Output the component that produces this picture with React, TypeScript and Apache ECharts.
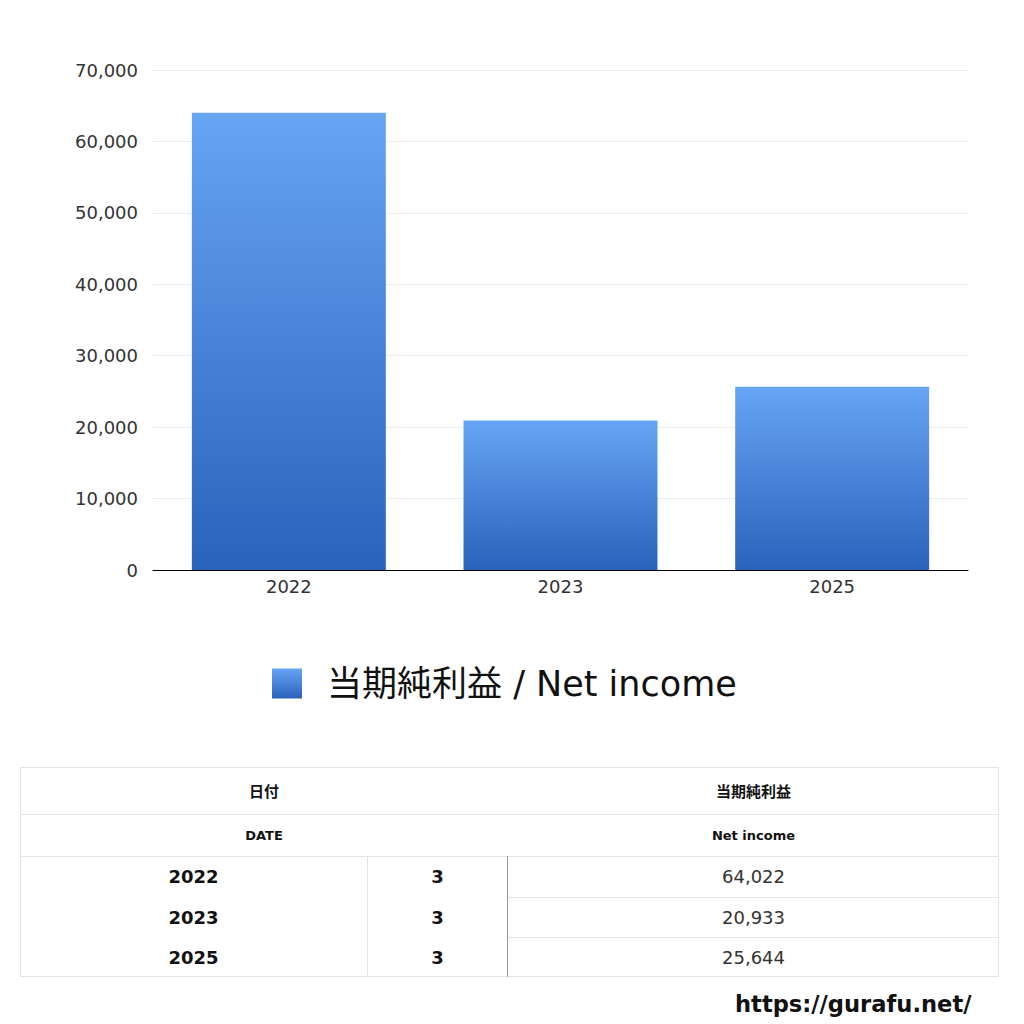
import React, { useEffect, useRef } from 'react'
import * as echarts from 'echarts'

const years = ['2022', '2023', '2025']
const months = ['3', '3', '3']
const netIncome = [64022, 20933, 25644]
const seriesName = '当期純利益 / Net income'

const FONT = '"DejaVu Sans", "Noto Sans CJK JP", sans-serif'

function Chart() {
  const chartRef = useRef<HTMLDivElement>(null)

  useEffect(() => {
    if (!chartRef.current) return
    const chart = echarts.init(chartRef.current, null, { renderer: 'svg' })

    chart.setOption({
      animation: false,
      textStyle: { fontFamily: FONT },
      grid: { left: 153, right: 56, top: 70, bottom: 454, containLabel: false },
      legend: {
        show: true,
        left: 272,
        top: 666,
        padding: 0,
        itemWidth: 30,
        itemHeight: 30,
        icon: 'rect',
        textStyle: { fontSize: 35, color: '#111', padding: [0, 0, 0, 20], fontFamily: FONT },
        data: [seriesName]
      },
      xAxis: {
        type: 'category',
        data: years,
        axisLine: { lineStyle: { color: '#000', width: 1 } },
        axisTick: { show: false },
        axisLabel: { color: '#333', fontSize: 18, margin: 7 }
      },
      yAxis: {
        type: 'value',
        min: 0,
        max: 70000,
        interval: 10000,
        axisLine: { show: false },
        axisTick: { show: false },
        axisLabel: {
          color: '#333',
          fontSize: 18,
          margin: 15,
          formatter: (v: number) => v.toLocaleString('en-US')
        },
        splitLine: { lineStyle: { color: '#ebebeb' } }
      },
      series: [
        {
          name: seriesName,
          type: 'bar',
          data: netIncome,
          barWidth: '71.4%',
          itemStyle: {
            color: new echarts.graphic.LinearGradient(0, 0, 0, 1, [
              { offset: 0, color: '#67a4f3' },
              { offset: 1, color: '#2b62bc' }
            ])
          }
        }
      ]
    })

    return () => {
      chart.dispose()
    }
  }, [])

  return <div ref={chartRef} style={{ position: 'absolute', left: 0, top: 0, width: 1024, height: 1024 }} />
}

const light = '#e3e3e3'

function Cell({ x, y, w, h, children, style }: any) {
  return (
    <div
      style={{
        position: 'absolute',
        left: x,
        top: y,
        width: w,
        height: h,
        display: 'flex',
        alignItems: 'center',
        justifyContent: 'center',
        ...style
      }}
    >
      {children}
    </div>
  )
}

function DataTable() {
  const rowTops = [856, 897, 937]
  const rowH = [41, 40, 40]
  return (
    <div style={{ position: 'absolute', left: 0, top: 0, width: 1024, height: 1024, fontFamily: FONT, color: '#111', pointerEvents: 'none' }}>
      {/* outer frame */}
      <div style={{ position: 'absolute', left: 20, top: 767, width: 979, height: 210, border: `1px solid ${light}`, boxSizing: 'border-box' }} />
      {/* header rows */}
      <div style={{ position: 'absolute', left: 20, top: 814, width: 979, height: 1, background: light }} />
      <div style={{ position: 'absolute', left: 20, top: 856, width: 979, height: 1, background: light }} />
      <Cell x={20} y={767} w={488} h={47} style={{ fontSize: 15, fontWeight: 700 }}>日付</Cell>
      <Cell x={508} y={767} w={491} h={47} style={{ fontSize: 15, fontWeight: 700 }}>当期純利益</Cell>
      <Cell x={20} y={814} w={488} h={42} style={{ fontSize: 13, fontWeight: 700 }}>DATE</Cell>
      <Cell x={508} y={814} w={491} h={42} style={{ fontSize: 13, fontWeight: 700 }}>Net income</Cell>
      {/* vertical dividers */}
      <div style={{ position: 'absolute', left: 367, top: 856, width: 1, height: 121, background: light }} />
      <div style={{ position: 'absolute', left: 507, top: 856, width: 1, height: 121, background: '#9a9a9a' }} />
      {/* value column row lines */}
      <div style={{ position: 'absolute', left: 508, top: 897, width: 491, height: 1, background: light }} />
      <div style={{ position: 'absolute', left: 508, top: 937, width: 491, height: 1, background: light }} />
      {years.map((y, i) => (
        <React.Fragment key={y}>
          <Cell x={20} y={rowTops[i]} w={347} h={rowH[i]} style={{ fontSize: 18, fontWeight: 700 }}>{y}</Cell>
          <Cell x={367} y={rowTops[i]} w={141} h={rowH[i]} style={{ fontSize: 18, fontWeight: 700 }}>{months[i]}</Cell>
          <Cell x={508} y={rowTops[i]} w={491} h={rowH[i]} style={{ fontSize: 18, color: '#333' }}>
            {netIncome[i].toLocaleString('en-US')}
          </Cell>
        </React.Fragment>
      ))}
      <div style={{ position: 'absolute', left: 735, top: 989, fontSize: 22.6, fontWeight: 700, color: '#111', lineHeight: '30px' }}>
        https://gurafu.net/
      </div>
    </div>
  )
}

export default function App() {
  return (
    <div style={{ position: 'absolute', left: 0, top: 0, width: 1024, height: 1024, background: '#fff', overflow: 'hidden' }}>
      <Chart />
      <DataTable />
    </div>
  )
}
